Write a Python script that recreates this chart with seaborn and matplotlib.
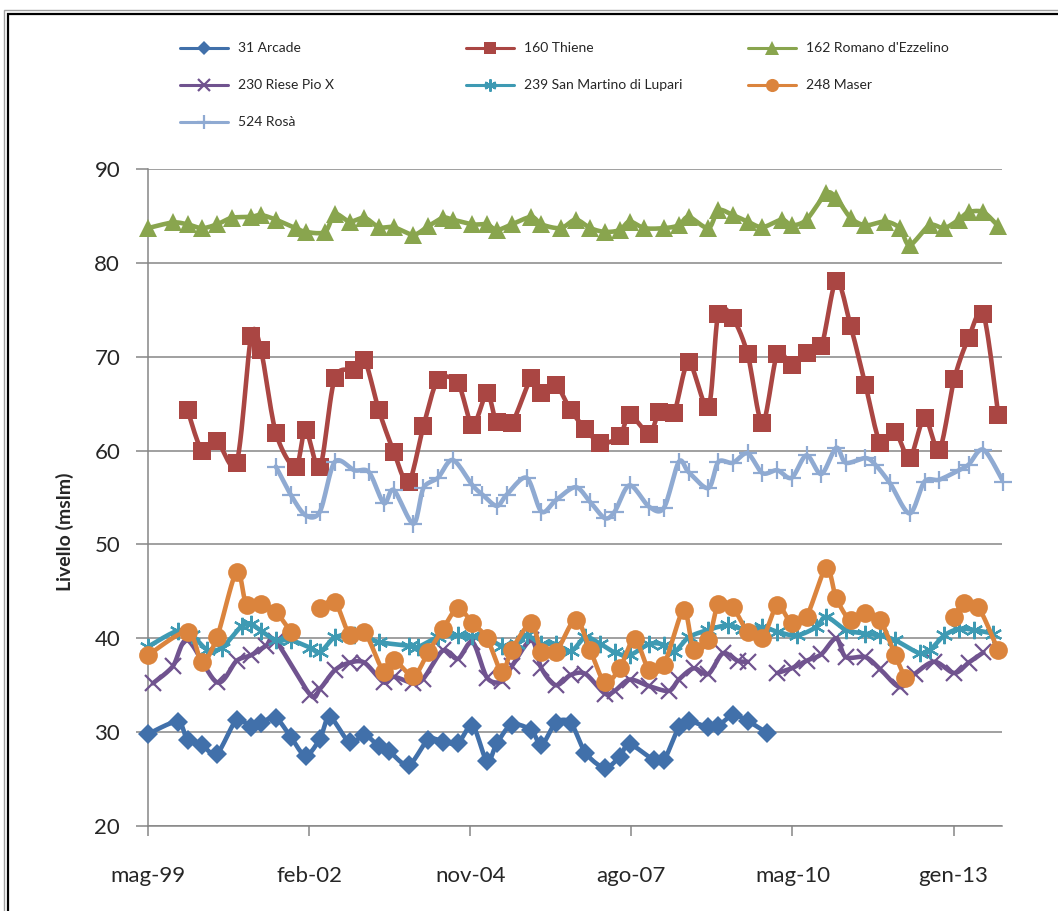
import numpy as np
import pandas as pd
import matplotlib
matplotlib.use("Agg")
import matplotlib.pyplot as plt
import matplotlib.dates as mdates
from matplotlib.lines import Line2D
from matplotlib.patches import Rectangle
import seaborn as sns

# ---------------------------------------------------------------- data
# Piezometric levels (m s.l.m.) of the monitoring wells; None = no reading
arcade_dates = ["1999-05", "1999-11", "2000-01", "2000-04", "2000-07", "2000-11", "2001-02",
                "2001-04", "2001-07", "2001-10", "2002-01", "2002-04", "2002-06", "2002-10",
                "2003-01", "2003-04", "2003-06", "2003-10", "2004-02", "2004-05", "2004-08",
                "2004-11", "2005-02", "2005-04", "2005-07", "2005-11", "2006-01", "2006-04",
                "2006-07", "2006-10", "2007-02", "2007-05", "2007-07", "2007-12", "2008-02",
                "2008-05", "2008-07", "2008-11", "2009-01", "2009-04", "2009-07", "2009-11"]
arcade_vals = [29.8, 31.1, 29.2, 28.6, 27.7, 31.3, 30.5,
               31.0, 31.5, 29.5, 27.5, 29.3, 31.6, 28.9,
               29.7, 28.5, 28.0, 26.5, 29.2, 29.0, 28.8,
               30.7, 26.9, 28.8, 30.8, 30.2, 28.6, 31.0,
               31.0, 27.8, 26.2, 27.4, 28.7, 27.0, 27.0,
               30.5, 31.2, 30.5, 30.7, 31.8, 31.2, 29.9]

thiene_dates = ["2000-01", "2000-04", "2000-07", "2000-11", "2001-02", "2001-04", "2001-07",
                "2001-11", "2002-01", "2002-04", "2002-07", "2002-11", "2003-01", "2003-04",
                "2003-07", "2003-10", "2004-01", "2004-04", "2004-08", "2004-11", "2005-02",
                "2005-04", "2005-07", "2005-11", "2006-01", "2006-04", "2006-07", "2006-10",
                "2007-01", "2007-05", "2007-07", "2007-11", "2008-01", "2008-04", "2008-07",
                "2008-11", "2009-01", "2009-04", "2009-07", "2009-10", "2010-01", "2010-04",
                "2010-07", "2010-10", "2011-01", "2011-04", "2011-07", "2011-10", "2012-01",
                "2012-04", "2012-07", "2012-10", "2013-01", "2013-04", "2013-07", "2013-10"]
thiene_vals = [64.3, 60.0, 61.0, 58.7, 72.2, 70.7, 61.9,
               58.2, 62.2, 58.2, 67.7, 68.6, 69.7, 64.3,
               59.9, 56.6, 62.6, 67.5, 67.2, 62.7, 66.1,
               63.0, 62.9, 67.7, 66.1, 67.0, 64.3, 62.3,
               60.8, 61.5, 63.8, 61.8, 64.1, 64.0, 69.4,
               64.6, 74.6, 74.1, 70.3, 62.9, 70.3, 69.1,
               70.4, 71.1, 78.1, 73.3, 67.0, 60.8, 62.0,
               59.2, 63.5, 60.1, 67.6, 72.0, 74.5, 63.8]

romano_dates = ["1999-05", "1999-10", "2000-01", "2000-04", "2000-07", "2000-10", "2001-02",
                "2001-04", "2001-07", "2001-11", "2002-01", "2002-05", "2002-07", "2002-10",
                "2003-01", "2003-04", "2003-07", "2003-11", "2004-02", "2004-05", "2004-07",
                "2004-11", "2005-02", "2005-04", "2005-07", "2005-11", "2006-01", "2006-05",
                "2006-08", "2006-11", "2007-02", "2007-05", "2007-07", "2007-10", "2008-02",
                "2008-05", "2008-07", "2008-11", "2009-01", "2009-04", "2009-07", "2009-10",
                "2010-02", "2010-04", "2010-07", "2010-11", "2011-01", "2011-04", "2011-07",
                "2011-11", "2012-02", "2012-04", "2012-08", "2012-11", "2013-02", "2013-04",
                "2013-07", "2013-10"]
romano_vals = [83.7, 84.3, 84.1, 83.7, 84.1, 84.8, 84.9,
               85.1, 84.6, 83.7, 83.3, 83.3, 85.2, 84.4,
               84.8, 83.8, 83.8, 83.0, 83.9, 84.8, 84.6,
               84.1, 84.1, 83.5, 84.1, 84.9, 84.1, 83.7,
               84.6, 83.7, 83.3, 83.5, 84.4, 83.7, 83.7,
               84.0, 84.9, 83.7, 85.6, 85.1, 84.4, 83.8,
               84.6, 84.0, 84.6, 87.4, 86.9, 84.8, 84.0,
               84.4, 83.7, 81.9, 84.0, 83.7, 84.6, 85.4,
               85.4, 83.9]

riese_dates = ["1999-06", "1999-10", "2000-01", "2000-07", "2000-11", "2001-02", "2001-05",
               "2001-07", "2002-02", "2002-04", "2002-07", "2002-10", "2003-01", "2003-05",
               "2003-07", "2003-11", "2004-01", "2004-05", "2004-08", "2004-11", "2005-02",
               "2005-05", "2005-07", "2005-11", "2006-01", "2006-04", "2006-07", "2006-10",
               "2007-02", "2007-04", "2007-07", "2007-11", "2008-03", "2008-05", "2008-08",
               "2008-11", "2009-02", "2009-05", "2009-07", "2009-10", "2010-01", "2010-04",
               "2010-07", "2010-10", "2011-01", "2011-03", "2011-07", "2011-10", "2012-02",
               "2012-05", "2012-09", "2013-01", "2013-04", "2013-07"]
riese_vals = [35.2, 37.0, 39.8, 35.3, 37.6, 38.2, 39.2,
              39.7, 34.0, 34.6, 36.6, 37.4, 37.4, 35.3,
              35.9, 35.2, 35.7, 38.7, 37.8, 39.6, 35.8,
              35.4, 37.0, 39.8, 36.8, 35.0, 36.1, 36.2,
              34.1, 34.4, 35.6, 34.9, 34.4, 35.6, 36.8,
              36.2, 38.4, 37.6, 37.5, None, 36.3, 36.8,
              37.6, 38.3, 40.0, 38.0, 38.0, 36.7, 34.8,
              36.2, 37.5, 36.3, 37.4, 38.5]

sanmartino_dates = ["1999-05", "1999-11", "2000-02", "2000-05", "2000-08", "2000-12", "2001-02",
                    "2001-04", "2001-07", "2001-10", "2002-02", "2002-04", "2002-07", "2002-11",
                    "2003-04", "2003-10", "2003-12", "2004-04", "2004-08", "2004-11", "2005-02",
                    "2005-05", "2005-08", "2005-10", "2006-01", "2006-04", "2006-07", "2006-10",
                    "2007-01", "2007-04", "2007-07", "2007-11", "2008-02", "2008-04", "2008-07",
                    "2008-11", "2009-03", "2009-06", "2009-10", "2010-01", "2010-05", "2010-09",
                    "2010-11", "2011-03", "2011-07", "2011-10", "2012-01", "2012-06", "2012-08",
                    "2012-11", "2013-02", "2013-05", "2013-09"]
sanmartino_vals = [39.1, 40.8, 40.3, 38.8, 39.0, 41.3, 41.5,
                   40.8, 39.8, 39.8, 39.0, 38.5, 40.1, 40.3,
                   39.6, 39.2, 39.1, 40.1, 40.3, 40.2, 40.0,
                   39.2, 39.4, 40.3, 39.4, 39.4, 38.6, 40.1,
                   39.4, 38.5, 38.2, 39.4, 39.3, 38.5, 40.1,
                   40.9, 41.4, 41.0, 41.2, 40.7, 40.3, 41.2,
                   42.3, 40.9, 40.5, 40.3, 39.8, 38.4, 38.7,
                   40.3, 41.0, 40.9, 40.5]

maser_dates = ["1999-05", "2000-01", "2000-04", "2000-07", "2000-11", "2001-01", "2001-04",
               "2001-07", "2001-10", "2002-01", "2002-04", "2002-07", "2002-10", "2003-01",
               "2003-05", "2003-07", "2003-11", "2004-02", "2004-05", "2004-08", "2004-11",
               "2005-02", "2005-05", "2005-07", "2005-11", "2006-01", "2006-04", "2006-08",
               "2006-11", "2007-02", "2007-05", "2007-08", "2007-11", "2008-02", "2008-06",
               "2008-08", "2008-11", "2009-01", "2009-04", "2009-07", "2009-10", "2010-01",
               "2010-04", "2010-07", "2010-11", "2011-01", "2011-04", "2011-07", "2011-10",
               "2012-01", "2012-03", "2012-08", "2013-01", "2013-03", "2013-06", "2013-10"]
maser_vals = [38.2, 40.7, 37.5, 40.1, 47.1, 43.5, 43.7,
              42.8, 40.7, None, 43.2, 43.9, 40.4, 40.7,
              36.4, 37.7, 36.0, 38.5, 41.0, 43.2, 41.6,
              40.0, 36.4, 38.8, 41.6, 38.5, 38.5, 42.0,
              38.7, 35.3, 36.8, 39.9, 36.6, 37.2, 43.0,
              38.8, 39.8, 43.7, 43.3, 40.7, 40.0, 43.5,
              41.6, 42.3, 47.5, 44.3, 41.9, 42.7, 41.9,
              38.2, 35.8, None, 42.3, 43.8, 43.3, 38.7]

rosa_dates = ["2001-07", "2001-10", "2002-01", "2002-04", "2002-07", "2002-11", "2003-02",
              "2003-05", "2003-07", "2003-11", "2004-01", "2004-04", "2004-07", "2004-11",
              "2005-01", "2005-04", "2005-06", "2005-10", "2006-01", "2006-04", "2006-08",
              "2006-11", "2007-02", "2007-04", "2007-07", "2007-11", "2008-02", "2008-05",
              "2008-07", "2008-11", "2009-01", "2009-04", "2009-07", "2009-10", "2010-01",
              "2010-04", "2010-07", "2010-10", "2011-01", "2011-03", "2011-07", "2011-09",
              "2011-12", "2012-04", "2012-07", "2012-10", "2013-02", "2013-04", "2013-07",
              "2013-11"]
rosa_vals = [58.3, 55.3, 53.1, 53.5, 58.8, 57.9, 57.7,
             54.4, 55.8, 52.2, 56.0, 57.1, 59.0, 56.3,
             55.3, 54.1, 55.3, 57.1, 53.5, 54.7, 56.1,
             54.5, 52.8, 53.5, 56.3, 54.0, 53.9, 58.8,
             57.7, 56.0, 58.8, 58.7, 59.7, 57.6, 57.9,
             57.1, 59.5, 57.5, 60.3, 58.7, 59.2, 58.5,
             56.5, 53.3, 56.7, 56.9, 57.9, 58.5, 60.1,
             56.7]

series_names = ["31 Arcade", "160 Thiene", "162 Romano d'Ezzelino", "230 Riese Pio X",
                "239 San Martino di Lupari", "248 Maser", "524 Rosà"]

tick_dates = ["1999-05-31", "2002-02-22", "2004-11-16", "2007-08-11", "2010-05-05", "2013-01-27"]
tick_labels = ["mag-99", "feb-02", "nov-04", "ago-07", "mag-10", "gen-13"]

y_ticks = [20, 30, 40, 50, 60, 70, 80, 90]

# ---------------------------------------------------------------- styles
series = [
    (arcade_dates, arcade_vals, "#4170AA", "D", 10.0, 0.0),
    (thiene_dates, thiene_vals, "#AA4643", "s", 12.5, 0.0),
    (romano_dates, romano_vals, "#89A54E", "^", 13.5, 0.0),
    (riese_dates, riese_vals, "#70538F", "x", 12.0, 1.6),
    (sanmartino_dates, sanmartino_vals, "#3E9AB3", (6, 2, 0), 12.5, 1.6),
    (maser_dates, maser_vals, "#DB843D", "o", 13.5, 0.0),
    (rosa_dates, rosa_vals, "#8FAAD2", "+", 13.5, 1.6),
]
LINE_W = 3.3
GRID = "#868686"


def month_end_nums(labels):
    d = pd.to_datetime(labels, format="%Y-%m") + pd.offsets.MonthEnd(0)
    return mdates.date2num(d.to_pydatetime())


def smooth_runs(x, y, steps=14, tension=0.15):
    """Split at missing readings and pass a smooth cubic Bezier through each run."""
    y = np.array([np.nan if v is None else v for v in y], dtype=float)
    runs, cur = [], []
    for xi, yi in zip(x, y):
        if np.isnan(yi):
            if cur:
                runs.append(cur)
            cur = []
        else:
            cur.append((xi, yi))
    if cur:
        runs.append(cur)
    out = []
    t = np.linspace(0, 1, steps)[:, None]
    for run in runs:
        p = np.array(run)
        if len(p) < 2:
            continue
        pieces = []
        for i in range(len(p) - 1):
            p0 = p[i - 1] if i > 0 else p[i]
            p1, p2 = p[i], p[i + 1]
            p3 = p[i + 2] if i + 2 < len(p) else p[i + 1]
            c1 = p1 + (p2 - p0) * tension
            c2 = p2 - (p3 - p1) * tension
            seg = ((1 - t) ** 3) * p1 + 3 * ((1 - t) ** 2) * t * c1 + 3 * (1 - t) * t ** 2 * c2 + t ** 3 * p2
            pieces.append(seg if i == 0 else seg[1:])
        out.append(np.vstack(pieces))
    return out


# ---------------------------------------------------------------- figure
sns.set_theme(style="white")
plt.rcParams["font.family"] = ["Lato", "DejaVu Sans"]

W, H = 1058, 911
fig = plt.figure(figsize=(W / 100, H / 100), dpi=100)
ax = fig.add_axes([148 / W, 1 - 826 / H, (1002 - 148) / W, (826 - 169) / H])

for k, (dates, vals, color, marker, ms, mew) in enumerate(series):
    x = month_end_nums(dates)
    for curve in smooth_runs(x, vals):
        sns.lineplot(x=curve[:, 0], y=curve[:, 1], sort=False, estimator=None,
                     color=color, linewidth=LINE_W, ax=ax, zorder=3 + 2 * k)
    yv = np.array([np.nan if v is None else v for v in vals], dtype=float)
    filled = marker in ("D", "s", "^", "o")
    ax.plot(x, yv, linestyle="none", marker=marker, markersize=ms,
            color=color, markerfacecolor=color if filled else "none",
            markeredgecolor=color, markeredgewidth=mew if not filled else 0.0,
            clip_on=False, zorder=4 + 2 * k)

# axes styling
ax.set_xlim(mdates.date2num(pd.Timestamp("1999-05-31")), mdates.date2num(pd.Timestamp("2013-11-23")))
ax.set_ylim(20, 90)
ax.set_yticks(y_ticks)
ax.set_xticks(mdates.date2num(pd.to_datetime(tick_dates).to_pydatetime()))
ax.set_xticklabels(tick_labels)
ax.yaxis.grid(True, color=GRID, linewidth=1.1)
ax.xaxis.grid(False)
ax.set_axisbelow(True)
for side in ("top", "right"):
    ax.spines[side].set_visible(False)
for side in ("left", "bottom"):
    ax.spines[side].set_color(GRID)
    ax.spines[side].set_linewidth(1.1)
ax.tick_params(axis="y", direction="out", length=9, width=1.1, color=GRID,
               pad=11, labelsize=16, left=True)
ax.tick_params(axis="x", direction="out", length=7, width=1.1, color=GRID,
               pad=22, labelsize=16, bottom=True)
ax.set_xlabel("")
ax.set_ylabel("")
ax.set_facecolor("white")

fig.text(65 / W, 1 - 532 / H, "Livello (mslm)", rotation=90, ha="center", va="center",
         fontsize=14, fontweight="bold")

# legend laid out in three columns above the plot
leg_cols = [180, 466, 748]
leg_rows = [48, 85, 122]
for k, ((dates, vals, color, marker, ms, mew), name) in enumerate(zip(series, series_names)):
    r, c = divmod(k, 3)
    x0 = leg_cols[c] / W
    x1 = (leg_cols[c] + 48) / W
    yy = 1 - leg_rows[r] / H
    fig.add_artist(Line2D([x0, x1], [yy, yy], transform=fig.transFigure,
                          color=color, linewidth=2.2))
    filled = marker in ("D", "s", "^", "o")
    fig.add_artist(Line2D([(x0 + x1) / 2], [yy], transform=fig.transFigure,
                          linestyle="none", marker=marker, markersize=ms * 0.7,
                          color=color, markerfacecolor=color if filled else "none",
                          markeredgecolor=color,
                          markeredgewidth=mew if not filled else 0.0))
    fig.text((leg_cols[c] + 58) / W, yy, name, ha="left", va="center", fontsize=10)

# chart-area frame
fig.add_artist(Rectangle((4 / W, -0.2), 1.2, 1.2 - 10 / H, transform=fig.transFigure,
                         fill=False, edgecolor="#A0A0A0", linewidth=1.0))
fig.add_artist(Rectangle((7.5 / W, -0.2), 1.2, 1.2 - 13.5 / H, transform=fig.transFigure,
                         fill=False, edgecolor="black", linewidth=1.6))

fig.savefig("out.png", dpi=100, facecolor="white")
